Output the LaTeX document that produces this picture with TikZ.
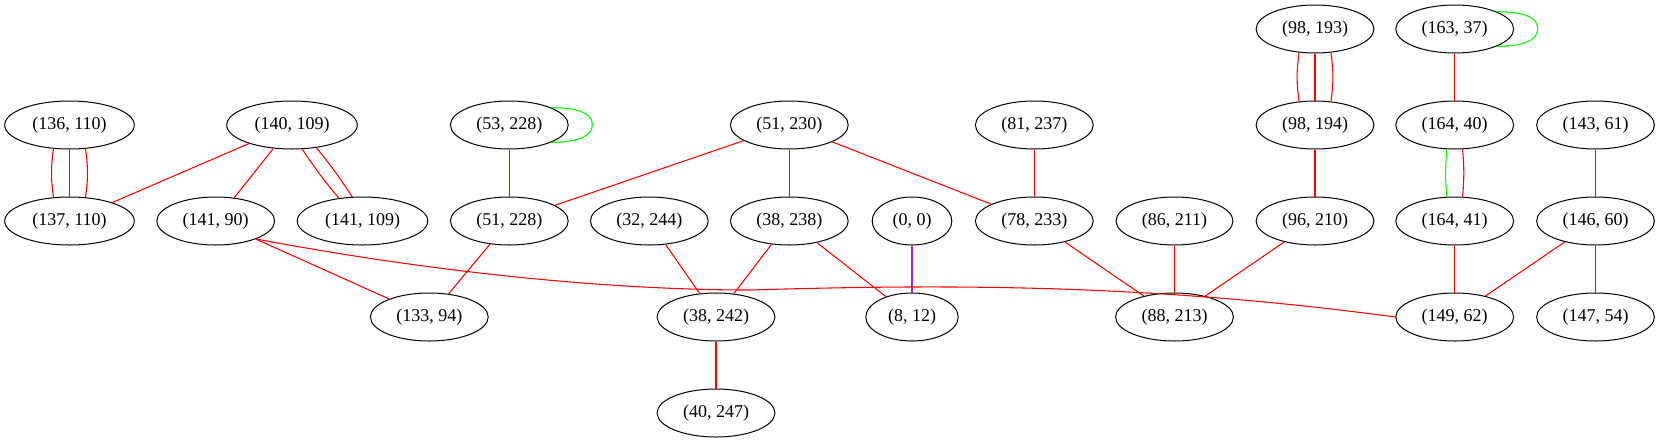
\documentclass[tikz,border=0pt]{standalone}
\usepackage{fontspec}
\setmainfont{Liberation Serif}
\usetikzlibrary{shapes.geometric}
\definecolor{gvred}{HTML}{FF0000}
\definecolor{gvgreen}{HTML}{00FF00}
\definecolor{gvpurple}{HTML}{A020F0}

\begin{document}
\begin{tikzpicture}[x=0.75pt, y=-0.75pt,
	vertex/.style={ellipse, draw, line width=0.75pt, minimum height=36pt,
		inner xsep=6.5pt, inner ysep=0pt, font=\fontsize{13.5}{16}\selectfont},
	link/.style={draw=gvred, line width=0.8pt},
	greenlink/.style={draw=gvgreen, line width=0.8pt},
	purplelink/.style={draw=gvpurple, line width=0.8pt}
]
	\useasboundingbox (0,0) rectangle (1658,443);

	% Vertices
	\node[vertex] (v98-193) at (1315,29) {(98, 193)};
	\node[vertex] (v163-37) at (1454.7,29) {(163, 37)};

	\node[vertex] (v136-110) at (69.5,125) {(136, 110)};
	\node[vertex] (v140-109) at (292,125) {(140, 109)};
	\node[vertex] (v53-228) at (509.3,125) {(53, 228)};
	\node[vertex] (v51-230) at (789.3,125) {(51, 230)};
	\node[vertex] (v81-237) at (1034.3,125) {(81, 237)};
	\node[vertex] (v98-194) at (1315,125) {(98, 194)};
	\node[vertex] (v164-40) at (1454.7,125) {(164, 40)};
	\node[vertex] (v143-61) at (1595.5,125) {(143, 61)};

	\node[vertex] (v137-110) at (69.5,221) {(137, 110)};
	\node[vertex] (v141-90) at (215.7,221) {(141, 90)};
	\node[vertex] (v141-109) at (362.5,221) {(141, 109)};
	\node[vertex] (v51-228) at (509.3,221) {(51, 228)};
	\node[vertex] (v32-244) at (649.3,221) {(32, 244)};
	\node[vertex] (v38-238) at (789.3,221) {(38, 238)};
	\node[vertex] (v0-0) at (912,221) {(0, 0)};
	\node[vertex] (v78-233) at (1034.3,221) {(78, 233)};
	\node[vertex] (v86-211) at (1174.5,221) {(86, 211)};
	\node[vertex] (v96-210) at (1315,221) {(96, 210)};
	\node[vertex] (v164-41) at (1454.7,221) {(164, 41)};
	\node[vertex] (v146-60) at (1595.5,221) {(146, 60)};

	\node[vertex] (v133-94) at (429.3,317) {(133, 94)};
	\node[vertex] (v38-242) at (716,317) {(38, 242)};
	\node[vertex] (v8-12) at (912,317) {(8, 12)};
	\node[vertex] (v88-213) at (1174.5,317) {(88, 213)};
	\node[vertex] (v149-62) at (1454.7,317) {(149, 62)};
	\node[vertex] (v147-54) at (1595.5,317) {(147, 54)};

	\node[vertex] (v40-247) at (716,413) {(40, 247)};

	% Self loops
	\draw[greenlink] (v53-228.north east) .. controls +(28,0) and +(0,-11) .. ++(41,17)
		.. controls +(0,11) and +(28,0) .. (v53-228.south east);
	\draw[greenlink] (v163-37.north east) .. controls +(28,0) and +(0,-11) .. ++(41,17)
		.. controls +(0,11) and +(28,0) .. (v163-37.south east);

	% Multiple edges
	\draw[link] (v136-110.-124) to[bend right=8] (v137-110.124);
	\draw[link] (v136-110) -- (v137-110);
	\draw[link] (v136-110.-56) to[bend left=8] (v137-110.56);
	\draw[link] (v98-193.-124) to[bend right=8] (v98-194.124);
	\draw[link] (v98-193) -- (v98-194);
	\draw[link] (v98-193.-56) to[bend left=8] (v98-194.56);
	\draw[link] (v140-109.-67) to[bend right=3] (v141-109.136);
	\draw[link] (v140-109.-43) to[bend left=3] (v141-109.113);
	\draw[greenlink] (v164-40.-108) to[bend right=5] (v164-41.108);
	\draw[link] (v164-40.-72) to[bend left=5] (v164-41.72);

	% Edges
	\draw[link] (v140-109) -- (v137-110);
	\draw[link] (v140-109) -- (v141-90);
	\draw[link] (v53-228) -- (v51-228);
	\draw[link] (v51-230) -- (v51-228);
	\draw[link] (v51-230) -- (v38-238);
	\draw[link] (v51-230) -- (v78-233);
	\draw[link] (v81-237) -- (v78-233);
	\draw[link] (v98-194) -- (v96-210);
	\draw[link] (v163-37) -- (v164-40);
	\draw[link] (v143-61) -- (v146-60);
	\draw[link] (v141-90) -- (v133-94);
	\draw[link] (v51-228) -- (v133-94);
	\draw[link] (v32-244) -- (v38-242);
	\draw[link] (v38-238) -- (v38-242);
	\draw[link] (v38-238) -- (v8-12);
	\draw[purplelink] (v0-0) -- (v8-12);
	\draw[link] (v78-233) -- (v88-213);
	\draw[link] (v86-211) -- (v88-213);
	\draw[link] (v96-210) -- (v88-213);
	\draw[link] (v164-41) -- (v149-62);
	\draw[link] (v146-60) -- (v149-62);
	\draw[link] (v146-60) -- (v147-54);
	\draw[link] (v38-242) -- (v40-247);
	\draw[link] (v141-90.-24) .. controls (420,270) and (600,290) .. (750,290)
		.. controls (950,284) and (1150,284) .. (v149-62.west);

\end{tikzpicture}
\end{document}
